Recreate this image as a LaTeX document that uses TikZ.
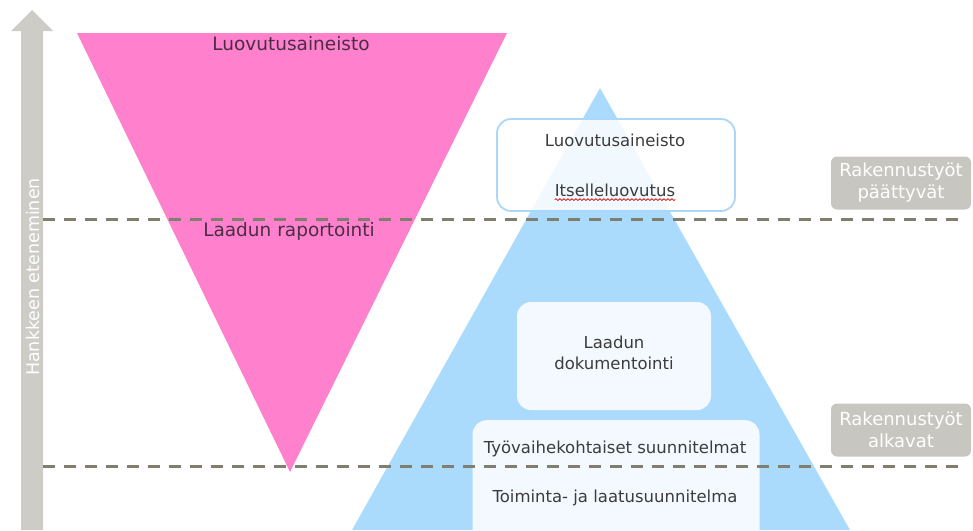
\documentclass[tikz,border=0pt]{standalone}
\usepackage{fontspec}
\setmainfont{DejaVu Sans}
\usetikzlibrary{decorations.pathmorphing}
\definecolor{pinkfill}{RGB}{255,128,204}
\definecolor{bluefill}{RGB}{171,219,252}
\definecolor{boxfill}{RGB}{243,249,254}
\definecolor{boxline}{RGB}{171,215,250}
\definecolor{axisgray}{RGB}{205,204,199}
\definecolor{labelgray}{RGB}{200,198,192}
\definecolor{dashcol}{RGB}{128,126,110}
\definecolor{txt}{RGB}{60,60,60}
\definecolor{pinktxt}{RGB}{75,45,70}
\begin{document}
\begin{tikzpicture}[x=1pt,y=-1pt,
  lbl/.style={text=txt,font=\fontsize{16.5}{20}\selectfont,inner sep=0pt},
  plbl/.style={text=pinktxt,font=\fontsize{18.5}{22}\selectfont,inner sep=0pt},
  softbox/.style={rounded corners=14pt,fill=boxfill,draw=none},
  graybox/.style={rounded corners=6pt,fill=labelgray,text=white,align=center,
    minimum width=140pt,minimum height=53pt,inner sep=0pt,
    font=\fontsize{18}{22}\selectfont},
  phase/.style={dashcol,line width=3pt,dash pattern=on 12pt off 9pt}]
\useasboundingbox (0,0) rectangle (973,530);
% progress arrow
\fill[axisgray] (21,530) -- (21,31) -- (11,31) -- (32,10) -- (53,31) -- (43,31) -- (43,530) -- cycle;
\node[rotate=90,text=white,font=\fontsize{17.5}{20}\selectfont,inner sep=0pt] (axis) at (33,277) {Hankkeen eteneminen};
% pink triangle
\fill[pinkfill] (77,33) -- (507,33) -- (290,472) -- cycle;
\node[plbl] (p1) at (291,44) {Luovutusaineisto};
\node[plbl] (p2) at (289,231) {Laadun raportointi};
% blue triangle
\fill[bluefill] (600,88) -- (850,530) -- (352,530) -- cycle;
% boxes
\node[rounded corners=14pt,fill=white,fill opacity=0.85,draw=boxline,line width=1.8pt,
  minimum width=238pt,minimum height=92pt] (b1) at (616,165) {};
\node[lbl] (b1a) at (615,140) {Luovutusaineisto};
\node[lbl] (b1b) at (615,190) {Itselleluovutus};
\draw[red!85!black,line width=0.7pt,decorate,decoration={snake,amplitude=0.9pt,segment length=4pt}]
  ([yshift=-3pt]b1b.south west) -- ([yshift=-3pt]b1b.south east);
\node[softbox,minimum width=194pt,minimum height=108pt] (b2) at (614,356) {};
\node[lbl,align=center,font=\fontsize{16.5}{21}\selectfont] (b2t) at (614,353) {Laadun\\dokumentointi};
\node[softbox,minimum width=287pt,minimum height=130pt,anchor=north] (b3) at (616,420) {};
\node[lbl] (b3a) at (615,449) {Työvaihekohtaiset suunnitelmat};
\node[lbl] (b3b) at (615,498) {Toiminta- ja laatusuunnitelma};
% phase labels
\node[graybox] (end) at (901,183) {Rakennustyöt\\päättyvät};
\node[graybox] (start) at (901,430) {Rakennustyöt\\alkavat};
% phase lines
\coordinate (l1a) at (43,219); \coordinate (l1b) at (962,219);
\coordinate (l2a) at (43,466); \coordinate (l2b) at (962,466);
\draw[phase] (l1a) -- (l1b);
\draw[phase] (l2a) -- (l2b);
\end{tikzpicture}
\end{document}
